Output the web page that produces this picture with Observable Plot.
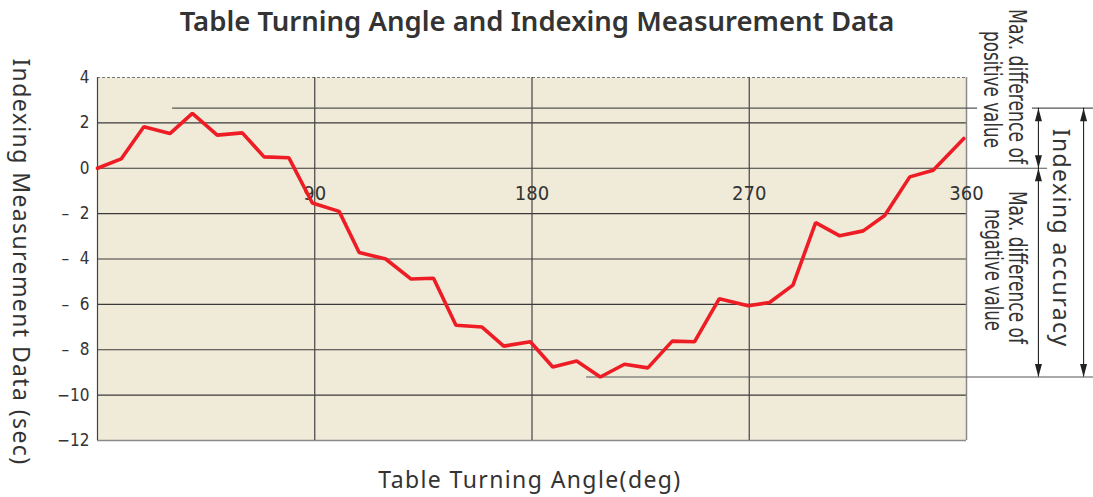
<!DOCTYPE html>
<html>
<head>
<meta charset="utf-8">
<script src="https://cdn.jsdelivr.net/npm/d3@7"></script>
<script src="https://cdn.jsdelivr.net/npm/@observablehq/plot@0.6"></script>
<style>
  html, body { margin: 0; padding: 0; background: #ffffff; }
  #chart svg { display: block; overflow: visible; }
</style>
</head>
<body>
<div id="chart"></div>
<script>
// Table turning angle (deg) at each measurement point
const angles = [0, 9.8, 19.2, 30, 39.3, 49.6, 60, 69, 79.3, 89, 100.1, 108.4, 119.4,
  129.8, 139.2, 148.5, 159.3, 168.3, 179.3, 188.6, 198.5, 208.3, 218.3, 228, 238.1,
  247.3, 257.6, 269.5, 278.4, 288.1, 297.5, 307.5, 317.2, 326.1, 336.5, 346.2, 358.9];

// Indexing measurement data (sec)
const values = [0.0, 0.41, 1.83, 1.53, 2.42, 1.46, 1.56, 0.50, 0.46, -1.53, -1.90, -3.71,
  -4.0, -4.88, -4.85, -6.92, -7.0, -7.84, -7.65, -8.76, -8.5, -9.2, -8.64, -8.8, -7.62,
  -7.65, -5.75, -6.06, -5.92, -5.15, -2.40, -2.98, -2.76, -2.08, -0.38, -0.09, 1.31];

const xTicks = [90, 180, 270, 360];
const yTicks = [4, 2, 0, -2, -4, -6, -8, -10, -12];
const yGrid = [2, 0, -2, -4, -6, -8, -10];

// Reference levels for the accuracy bracket
const maxPositive = 2.65;
const maxNegative = -9.2;

const title = "Table Turning Angle and Indexing Measurement Data";
const xLabel = "Table Turning Angle(deg)";
const yLabel = "Indexing Measurement Data (sec)";
const noteHead = "Max. difference of";
const positiveTail = "positive value";
const negativeTail = "negative value";
const accuracyNote = "Indexing accuracy";

const rows = angles.map((a, i) => ({angle: a, value: values[i]}));

const yFormat = d => d >= 0 ? String(d)
  : (d > -10 ? "\u2013\u2002\u2009" + (-d) : "\u2212" + (-d));

const sans = "'Noto Sans', 'Open Sans', sans-serif";
const narrow = "'Liberation Sans Narrow', 'DejaVu Sans Condensed', 'Liberation Sans', sans-serif";

// Bracket geometry (in degrees, extending past the right edge of the frame)
const innerX = 389.8, outerX = 408.5;
const refLines = [
  {y: maxPositive, x1: 31.1, x2: 364.6},
  {y: maxPositive, x1: 387.3, x2: 412.6},
  {y: 0, x1: 360, x2: 393.6},
  {y: maxNegative, x1: 202.6, x2: 412.6}
];
const shafts = [
  {x: innerX, y1: maxPositive, y2: maxNegative},
  {x: outerX, y1: maxPositive, y2: maxNegative}
];
const heads = [
  {x: innerX, y: maxPositive, up: true},
  {x: innerX, y: 0, up: false},
  {x: innerX, y: 0, up: true},
  {x: innerX, y: maxNegative, up: false},
  {x: outerX, y: maxPositive, up: true},
  {x: outerX, y: maxNegative, up: false}
];
const arrowHead = {
  draw(ctx) {
    ctx.moveTo(0, 0);
    ctx.lineTo(-3.5, 13);
    ctx.lineTo(3.5, 13);
    ctx.closePath();
  }
};

const centered = {textAnchor: "middle", lineAnchor: "middle", fill: "#333"};
const note = (label, y, dx, cls) => Plot.text([label], {...centered, frameAnchor: "right",
  y, dx, rotate: 90, text: d => d, fontSize: 25, fontFamily: narrow, className: cls});

const chart = Plot.plot({
  width: 1093,
  height: 497,
  marginTop: 77,
  marginBottom: 57,
  marginLeft: 97,
  marginRight: 127,
  x: {domain: [0, 360], axis: null},
  y: {domain: [-12, 4], axis: null},
  style: {background: "#ffffff", fontFamily: narrow, overflow: "visible"},
  marks: [
    Plot.frame({fill: "#F0EAD8", stroke: null}),
    Plot.ruleY(yGrid, {stroke: "#3a3a3a", strokeWidth: 1.2}),
    Plot.ruleY([4], {stroke: "#777", strokeWidth: 1.2, strokeDasharray: "3,2"}),
    Plot.ruleY([-12], {stroke: "#8a8a8a", strokeWidth: 1.5}),
    Plot.ruleX([90, 180, 270], {stroke: "#444", strokeWidth: 1.2}),
    Plot.ruleX([0], {stroke: "#444", strokeWidth: 1.2}),
    Plot.ruleX([360], {stroke: "#8a8a8a", strokeWidth: 1.5}),
    Plot.ruleY(refLines, {y: "y", x1: "x1", x2: "x2", stroke: "#555", strokeWidth: 1.2}),
    Plot.axisY({ticks: yTicks, tickFormat: yFormat, tickSize: 0, tickPadding: 8,
      fontSize: 17, fontFamily: narrow, label: null, color: "#333"}),
    Plot.text(xTicks, {x: d => d, y: 0, dy: 25, text: d => String(d),
      fontSize: 20, fontFamily: narrow, fill: "#333"}),
    Plot.line(rows, {x: "angle", y: "value", stroke: "#EE1D25", strokeWidth: 3.6,
      strokeLinejoin: "miter"}),
    Plot.ruleX(shafts, {x: "x", y1: "y1", y2: "y2", stroke: "#222", strokeWidth: 1.1}),
    Plot.dot(heads, {x: "x", y: "y", symbol: arrowHead, rotate: d => d.up ? 0 : 180,
      fill: "#222", stroke: null}),
    note(noteHead, 3.6, 50, "fit-155"),
    note(positiveTail, 3.47, 25, "fit-117"),
    note(noteHead, -4.37, 50, "fit-153"),
    note(negativeTail, -4.48, 26, "fit-122"),
    Plot.text([accuracyNote], {...centered, frameAnchor: "right", y: -3.08, dx: 94, rotate: 90,
      text: d => d, fontSize: 23, fontFamily: sans, className: "spaced-label"}),
    Plot.text([yLabel], {...centered, frameAnchor: "left", dx: -77, dy: 3, rotate: 90,
      text: d => d, fontSize: 23, fontFamily: sans, className: "spaced-label"}),
    Plot.text([xLabel], {...centered, frameAnchor: "bottom", dy: 40, dx: -2,
      text: d => d, fontSize: 23, fontFamily: sans, className: "spaced-label"}),
    Plot.text([title], {...centered, frameAnchor: "top", dy: -55, dx: 5,
      text: d => d, fontSize: 27.5, fontWeight: 600, fontFamily: sans})
  ]
});

// widen the axis titles a little
d3.select(chart).selectAll(".spaced-label text").style("letter-spacing", "1.4px");
// squeeze the bracket notes into condensed lettering of a set length
for (const len of [155, 117, 153, 122]) {
  d3.select(chart).selectAll(`.fit-${len} text`)
    .attr("textLength", len)
    .attr("lengthAdjust", "spacingAndGlyphs");
}

document.getElementById("chart").appendChild(chart);
</script>
</body>
</html>
